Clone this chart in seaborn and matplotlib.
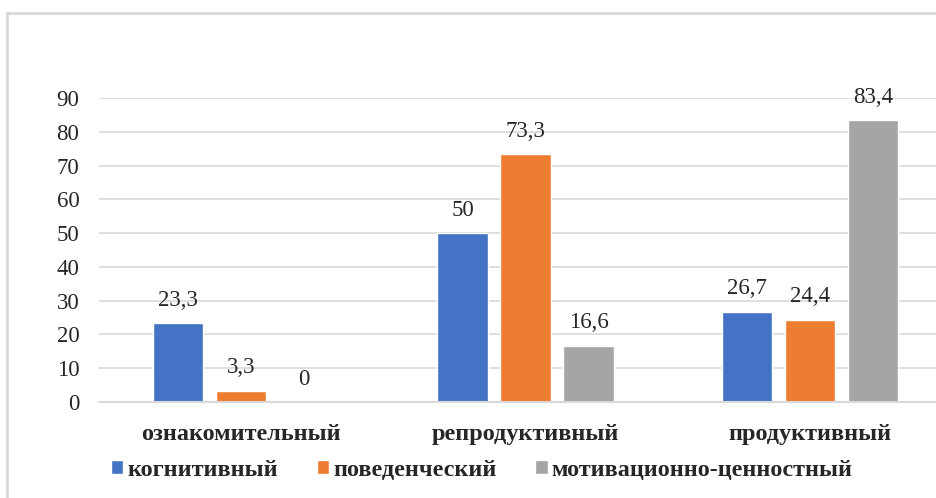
import matplotlib
matplotlib.use("Agg")
import matplotlib.pyplot as plt
import seaborn as sns
import pandas as pd
from matplotlib.patches import Rectangle

# Levels and components of readiness, % of respondents
levels = ["ознакомительный", "репродуктивный", "продуктивный"]
components = ["когнитивный", "поведенческий", "мотивационно-ценностный"]
cognitive = [23.3, 50, 26.7]
behavioral = [3.3, 73.3, 24.4]
motivational = [0, 16.6, 83.4]
yticks = [0, 10, 20, 30, 40, 50, 60, 70, 80, 90]
colors = ["#4472C4", "#ED7D31", "#A5A5A5"]

rows = []
for comp, vals in zip(components, [cognitive, behavioral, motivational]):
    for lvl, v in zip(levels, vals):
        rows.append({"level": lvl, "component": comp, "value": v})
df = pd.DataFrame(rows)

sns.set_theme(style="white")
plt.rcParams["font.family"] = ["Liberation Serif", "DejaVu Serif"]

W, H = 937, 498
fig = plt.figure(figsize=(W / 100, H / 100), dpi=100)

# outer frame
fig.patches.append(Rectangle((7 / W, -0.1), 1.2, (498 - 13) / H + 0.1,
                             transform=fig.transFigure, fill=False,
                             edgecolor="#D9D9D9", linewidth=2))

left_px, slot_px = 98.75, 284.5
ax = fig.add_axes([left_px / W, (H - 402) / H, 3 * slot_px / W, 304 / H])

sns.barplot(data=df, x="level", y="value", hue="component", order=levels,
            hue_order=components, palette=colors, width=0.664, gap=0.2,
            saturation=1, ax=ax, legend=False)

ax.set_xlim(-0.5, 2.5)
ax.set_ylim(0, 90)
ax.set_yticks(yticks)
ax.set_yticklabels([str(t) for t in yticks], fontsize=16.5)
ax.yaxis.grid(True, color="#D9D9D9", linewidth=1.2)
ax.set_axisbelow(True)
for s in ["top", "right", "left"]:
    ax.spines[s].set_visible(False)
ax.spines["bottom"].set_color("#D9D9D9")
ax.spines["bottom"].set_linewidth(1.5)
ax.tick_params(axis="y", length=0, pad=14)
ax.tick_params(axis="x", length=0, pad=15.5)
ax.set_xticklabels(levels, fontsize=17.5, fontweight="bold")
ax.set_xlabel("")
ax.set_ylabel("")

for cont in ax.containers:
    ax.bar_label(cont, labels=[f"{v:g}".replace(".", ",") for v in cont.datavalues],
                 padding=9, fontsize=16.5)

handles = [Rectangle((0, 0), 1, 1, facecolor=c) for c in colors]
fig.legend(handles, components, loc="center left",
           bbox_to_anchor=(111 / W, (H - 470) / H), ncol=3, frameon=False,
           prop={"family": ["Liberation Serif"], "weight": "bold", "size": 17.5},
           handlelength=0.5, handleheight=0.5, handletextpad=0.17,
           columnspacing=1.6, borderaxespad=0, borderpad=0)

fig.savefig("out.png", dpi=100)
